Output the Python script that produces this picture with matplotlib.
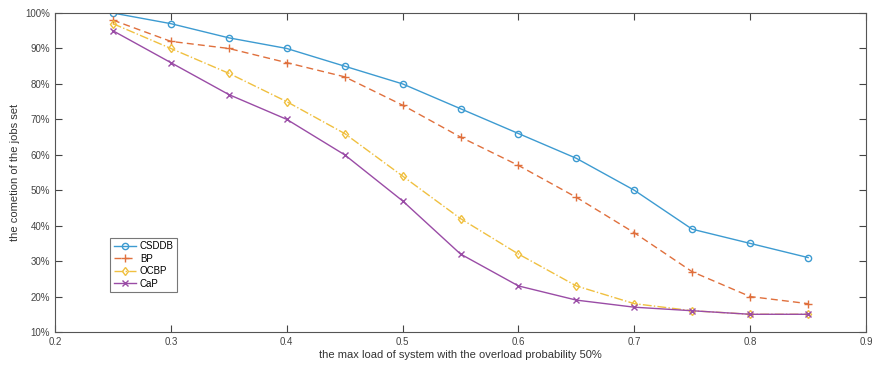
import numpy as np
import matplotlib.pyplot as plt
from matplotlib.ticker import FuncFormatter

plt.rcParams['font.family'] = ['Liberation Sans', 'DejaVu Sans']

load = [0.25, 0.3, 0.35, 0.4, 0.45, 0.5, 0.55, 0.6, 0.65, 0.7, 0.75, 0.8, 0.85]
csddb = [100, 97, 93, 90, 85, 80, 73, 66, 59, 50, 39, 35, 31]
bp = [98, 92, 90, 86, 82, 74, 65, 57, 48, 38, 27, 20, 18]
ocbp = [97, 90, 83, 75, 66, 54, 42, 32, 23, 18, 16, 15, 15]
cap = [95, 86, 77, 70, 60, 47, 32, 23, 19, 17, 16, 15, 15]

fig = plt.figure(figsize=(8.77, 3.72), dpi=100)
ax = fig.add_axes([0.0627, 0.1075, 0.9248, 0.8575])

ax.plot(load, csddb, '-', color='#3d9bd1', marker='o', mfc='none', ms=4.5, lw=1.0, label='CSDDB')
ax.plot(load, bp, '--', color='#e0703d', marker='+', ms=6, lw=1.0, dashes=(5, 3), label='BP')
ax.plot(load, ocbp, '-.', color='#f0c040', marker='d', mfc='none', ms=4.5, lw=1.0, label='OCBP')
ax.plot(load, cap, '-', color='#9a4ca6', marker='x', ms=4.5, lw=1.0, label='CaP')

ax.set_xlim(0.2, 0.9)
ax.set_ylim(10, 100)
ax.set_xticks(np.arange(0.2, 0.91, 0.1))
ax.set_yticks(np.arange(10, 101, 10))
ax.xaxis.set_major_formatter(FuncFormatter(lambda v, p: '%.1f' % v))
ax.yaxis.set_major_formatter(FuncFormatter(lambda v, p: '%d%%' % round(v)))
ax.tick_params(direction='in', top=True, right=True, labelsize=7, colors='#444444', length=5)
for s in ax.spines.values():
    s.set_color('#555555')
    s.set_linewidth(0.8)

ax.set_xlabel('the max load of system with the overload probability 50%', fontsize=8, color='#333333', labelpad=2)
ax.set_ylabel('the cometion of the jobs set', fontsize=8, color='#333333', labelpad=4)

leg = ax.legend(loc='lower left', bbox_to_anchor=(0.062, 0.11), fontsize=7, frameon=True,
                fancybox=False, edgecolor='#555555', handlelength=2.3, handletextpad=0.4,
                borderpad=0.35, labelspacing=0.25)
leg.get_frame().set_linewidth(0.8)

fig.savefig('out.png', dpi=100)
